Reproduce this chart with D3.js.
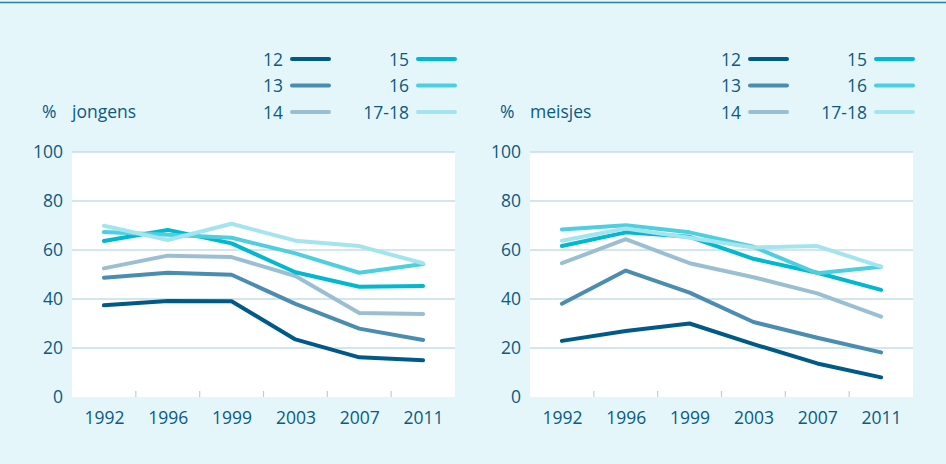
<!DOCTYPE html>
<html>
<head>
  <meta charset="utf-8">
  <title>Jongens en meisjes</title>
  <script src="https://cdn.jsdelivr.net/npm/d3@7"></script>
  <style>
    html, body { margin: 0; padding: 0; background: #e4f6fa; }
    svg text { font-family: "Open Sans", "Noto Sans", sans-serif; fill: #0c5a82; }
  </style>
</head>
<body>
  <div id="chart"></div>
  <script>
    const years = ["1992", "1996", "1999", "2003", "2007", "2011"];
    const ageGroups = ["12", "13", "14", "15", "16", "17-18"];
    const yTicks = [0, 20, 40, 60, 80, 100];

    // jongens (%)
    const jongens12 = [37.4, 39.2, 39.1, 23.5, 16.2, 15.0];
    const jongens13 = [48.7, 50.7, 49.9, 38.0, 27.9, 23.3];
    const jongens14 = [52.5, 57.7, 57.1, 49.4, 34.3, 33.9];
    const jongens15 = [63.7, 68.2, 62.7, 50.9, 45.0, 45.3];
    const jongens16 = [67.3, 66.2, 65.0, 58.6, 50.7, 54.3];
    const jongens1718 = [69.9, 64.1, 70.7, 63.8, 61.6, 54.6];

    // meisjes (%)
    const meisjes12 = [22.9, 26.9, 30.0, 21.6, 13.7, 8.0];
    const meisjes13 = [38.1, 51.6, 42.6, 30.6, 24.2, 18.2];
    const meisjes14 = [54.6, 64.4, 54.6, 48.9, 42.3, 32.8];
    const meisjes15 = [61.6, 67.2, 65.4, 56.4, 50.7, 43.7];
    const meisjes16 = [68.4, 70.1, 67.2, 61.3, 50.5, 53.2];
    const meisjes1718 = [63.8, 68.8, 65.0, 61.0, 61.6, 53.2];

    const colors = ["#005a87", "#4a8db0", "#9bbfd2", "#00b8d0", "#4dcfdf", "#a3e4ee"];

    const W = 946, H = 464;
    const plotTop = 152, plotBottom = 397, plotWidth = 383;
    const fs = 17.5;

    const svg = d3.select("#chart").append("svg")
      .attr("width", W).attr("height", H);

    svg.append("rect").attr("width", W).attr("height", H).attr("fill", "#e4f6fa");
    svg.append("line")
      .attr("x1", 0).attr("x2", W).attr("y1", 2.5).attr("y2", 2.5)
      .attr("stroke", "#2b7eaa").attr("stroke-width", 1.6);

    const y = d3.scaleLinear().domain([0, 100]).range([plotBottom, plotTop]);

    function panel(left, title, series) {
      const g = svg.append("g");
      const x = d3.scalePoint().domain(years).range([left, left + plotWidth]).padding(0.5);
      const step = x.step();

      g.append("rect")
        .attr("x", left).attr("y", y(100))
        .attr("width", plotWidth).attr("height", y(0) - y(100))
        .attr("fill", "#ffffff");

      g.selectAll(".grid").data(yTicks.filter(d => d > 0)).join("line")
        .attr("x1", left).attr("x2", left + plotWidth)
        .attr("y1", d => y(d)).attr("y2", d => y(d))
        .attr("stroke", "#c6dde7").attr("stroke-width", 1.5);

      // small separators between the years
      g.selectAll(".sep").data(d3.range(1, years.length)).join("line")
        .attr("x1", i => left + i * step).attr("x2", i => left + i * step)
        .attr("y1", y(0) - 6).attr("y2", y(0))
        .attr("stroke", "#b9d0dc").attr("stroke-width", 1.2);

      const yAxis = g.append("g")
        .attr("transform", `translate(${left},0)`)
        .call(d3.axisLeft(y).tickValues(yTicks).tickSize(0).tickPadding(9));
      yAxis.select(".domain").remove();
      yAxis.selectAll("text").attr("font-size", fs);

      const xAxis = g.append("g")
        .attr("transform", `translate(0,${plotBottom})`)
        .call(d3.axisBottom(x).tickSize(0).tickPadding(15));
      xAxis.select(".domain").remove();
      xAxis.selectAll("text").attr("font-size", fs);

      const line = d3.line().x((d, i) => x(years[i])).y(d => y(d));

      g.selectAll(".series").data(series).join("path")
        .attr("d", d => line(d.values))
        .attr("fill", "none")
        .attr("stroke", (d, i) => colors[i])
        .attr("stroke-width", 4)
        .attr("stroke-linecap", "round")
        .attr("stroke-linejoin", "round");

      // titel
      g.append("text").attr("x", left - 30).attr("y", 118)
        .attr("font-size", fs).text("%");
      g.append("text").attr("x", left).attr("y", 118)
        .attr("font-size", fs).text(title);

      // legenda
      const rowY = [59, 85.5, 112];
      const colEnd = [left + 211, left + 337];
      ageGroups.forEach((a, i) => {
        const col = Math.floor(i / 3), row = i % 3;
        const ex = colEnd[col];
        g.append("text")
          .attr("x", ex).attr("y", rowY[row] + 6.5)
          .attr("text-anchor", "end").attr("font-size", fs).text(a);
        g.append("line")
          .attr("x1", ex + 9).attr("x2", ex + 46)
          .attr("y1", rowY[row]).attr("y2", rowY[row])
          .attr("stroke", colors[i]).attr("stroke-width", 4)
          .attr("stroke-linecap", "round");
      });
    }

    const jongens = [jongens12, jongens13, jongens14, jongens15, jongens16, jongens1718]
      .map((v, i) => ({ age: ageGroups[i], values: v }));
    const meisjes = [meisjes12, meisjes13, meisjes14, meisjes15, meisjes16, meisjes1718]
      .map((v, i) => ({ age: ageGroups[i], values: v }));

    panel(72, "jongens", jongens);
    panel(530, "meisjes", meisjes);
  </script>
</body>
</html>
